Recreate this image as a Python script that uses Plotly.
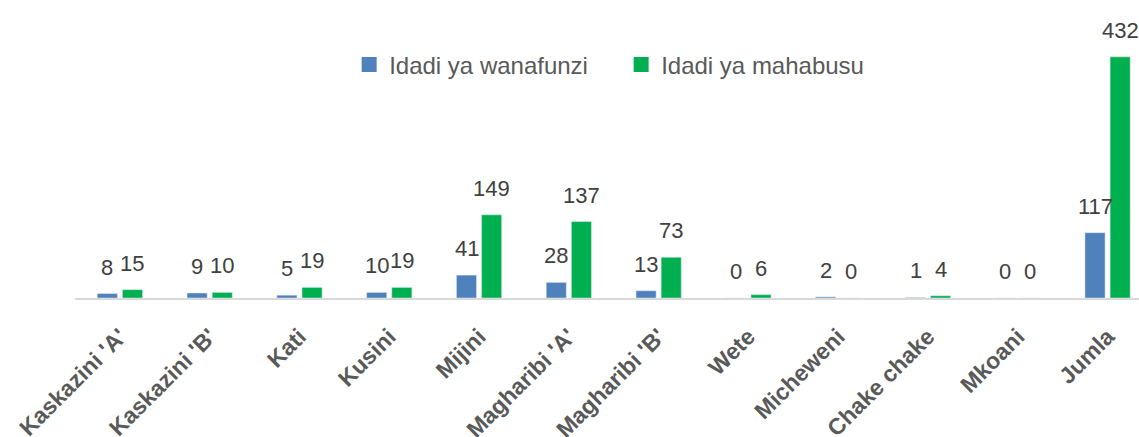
import plotly.graph_objects as go

categories = ["Kaskazini 'A'", "Kaskazini 'B'", "Kati", "Kusini", "Mijini", "Magharibi 'A'",
              "Magharibi 'B'", "Wete", "Micheweni", "Chake chake", "Mkoani", "Jumla"]
wanafunzi = [8, 9, 5, 10, 41, 28, 13, 0, 2, 1, 0, 117]
mahabusu = [15, 10, 19, 19, 149, 137, 73, 6, 0, 4, 0, 432]
series_names = ["Idadi ya wanafunzi", "Idadi ya mahabusu"]

BLUE = "#4F81BD"
GREEN = "#00B050"
FONT = "Liberation Sans, Arial"
LABEL_FONT = dict(family=FONT, size=22, color="#404040")

fig = go.Figure()
fig.add_trace(go.Bar(x=categories, y=wanafunzi, name=series_names[0], marker_color=BLUE, showlegend=False))
fig.add_trace(go.Bar(x=categories, y=mahabusu, name=series_names[1], marker_color=GREEN, showlegend=False))
# legend entries with larger square keys
for nm, col in zip(series_names, (BLUE, GREEN)):
    fig.add_trace(go.Scatter(x=[None], y=[None], mode="markers", name=nm,
                             marker=dict(symbol="square", size=15, color=col)))

annotations = []
for series, shift in ((wanafunzi, -12.5), (mahabusu, 12.5)):
    for c, v in zip(categories, series):
        annotations.append(dict(x=c, y=v, xref="x", yref="y", text=str(v), showarrow=False,
                                xshift=shift, yshift=12, yanchor="bottom", font=LABEL_FONT))

fig.update_layout(
    width=1139, height=437,
    margin=dict(l=75, r=0, t=20, b=139, autoexpand=False),
    paper_bgcolor="white", plot_bgcolor="white",
    barmode="group", bargap=0.44, bargroupgap=0.2,
    annotations=annotations,
    legend=dict(orientation="h", x=0.5133, xanchor="center", xref="paper",
                y=(298 - 65) / 278, yref="paper", yanchor="middle",
                font=dict(family=FONT, size=24, color="#595959"),
                entrywidth=227, entrywidthmode="pixels",
                itemwidth=30, traceorder="normal", bgcolor="rgba(0,0,0,0)"),
    xaxis=dict(range=[-0.5, 11.35], showline=True, linecolor="#D9D9D9", linewidth=2,
               tickangle=-45, ticks="", ticklabelstandoff=14,
               tickfont=dict(family=FONT, size=23, color="#595959", weight="bold"),
               showgrid=False, automargin=False),
    yaxis=dict(range=[0, 498], visible=False, showgrid=False),
)

fig.write_html("out.html", config={"displayModeBar": False},
               post_script="document.body.style.margin='0px';document.body.style.overflow='hidden';")
